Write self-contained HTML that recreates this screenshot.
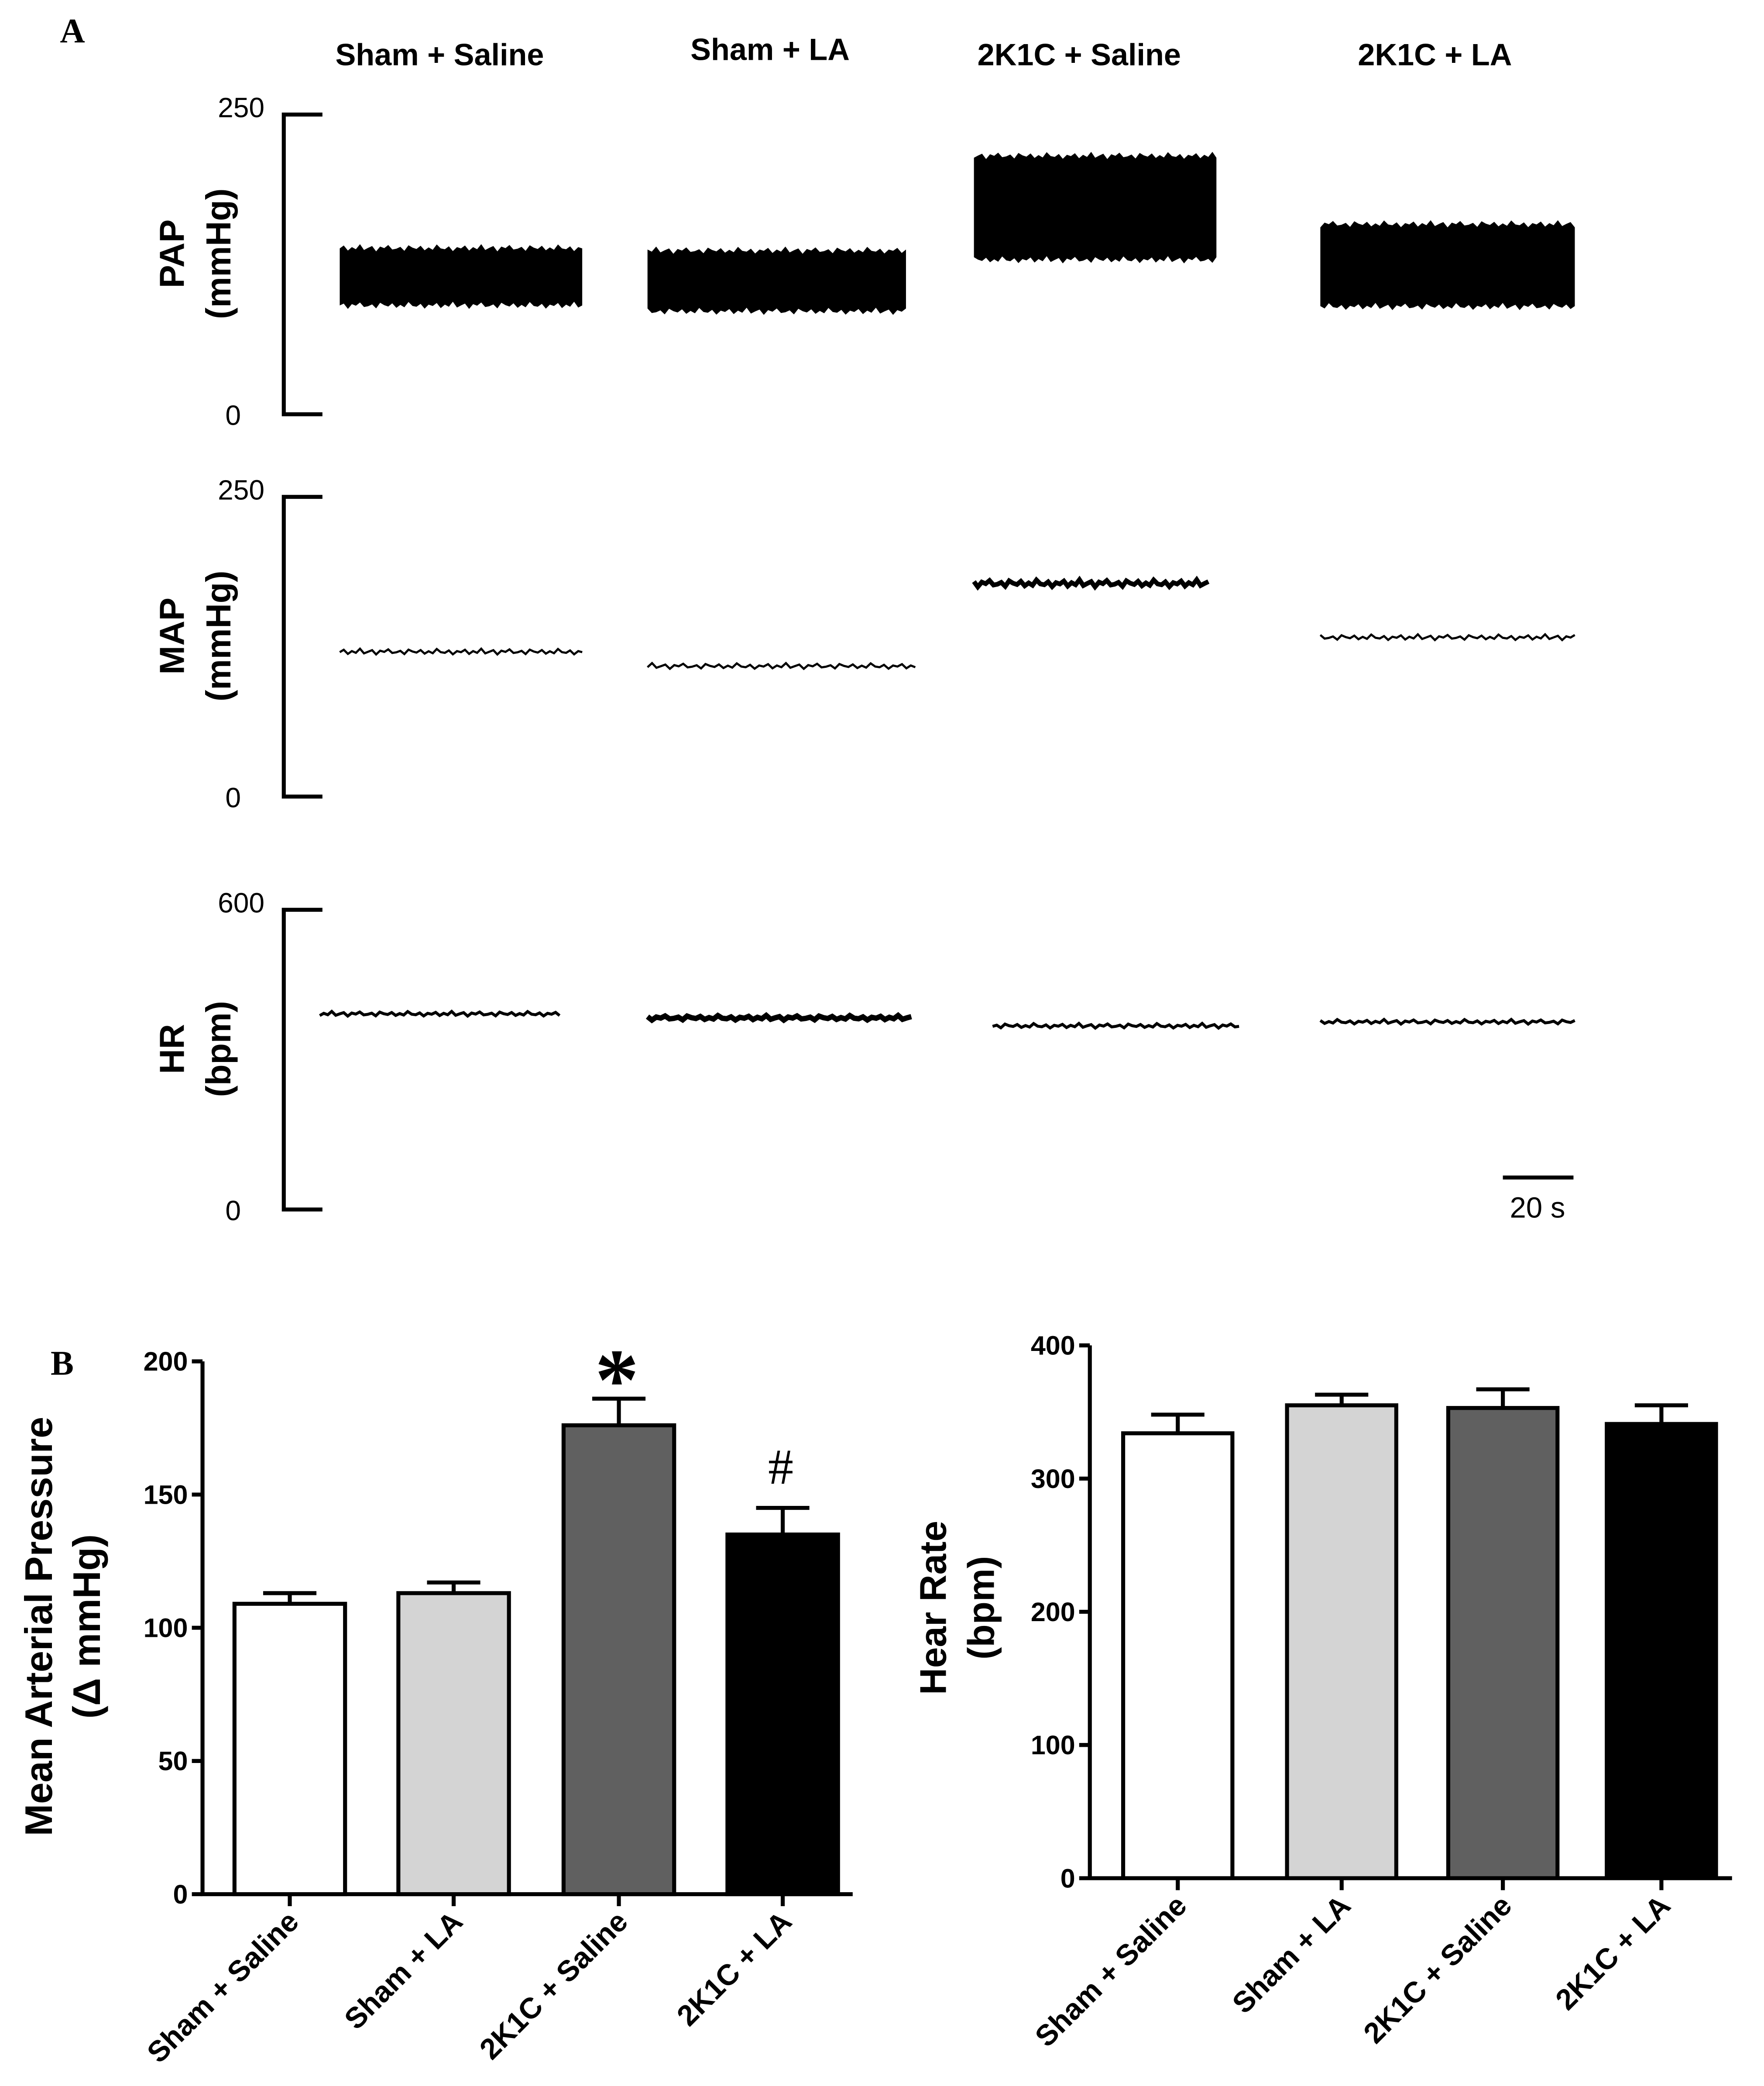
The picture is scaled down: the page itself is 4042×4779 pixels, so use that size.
<!DOCTYPE html>
<html><head><meta charset="utf-8"><style>
html,body{margin:0;padding:0;background:#fff;}
svg{display:block;}
text{font-family:"Liberation Sans",sans-serif;}
</style></head><body>
<svg id="fig" width="4042" height="4779" viewBox="0 0 1324 1566" preserveAspectRatio="none" xmlns="http://www.w3.org/2000/svg">
<rect width="1324" height="1566" fill="#fff"/>
<text x="45" y="32" style="font-family:'Liberation Serif',serif" font-weight="bold" font-size="26">A</text>
<text x="38" y="1032" style="font-family:'Liberation Serif',serif" font-weight="bold" font-size="26">B</text>
<g id="traces"></g>
<g id="barL"></g>
<g id="barR"></g>
</svg>
<script>
// ---------- data ----------
const groups = ["Sham + Saline", "Sham + LA", "2K1C + Saline", "2K1C + LA"];
const papLow  = [91, 86, 129, 90];
const papHigh = [139, 137, 216, 159];
const mapMean = [121, 109, 178, 133];
const hrMean  = [392, 384, 368, 376];
const mapBarValues = [109, 113, 176, 135];
const mapBarErr    = [4, 4, 10, 10];
const hrBarValues  = [334, 355, 353, 341];
const hrBarErr     = [14, 8, 14, 14];
const mapTicks = [0, 50, 100, 150, 200];
const hrTicks  = [0, 100, 200, 300, 400];
const jitter = [0.3,-0.8,1.1,-0.2,0.6,-1.3,0.9,0.1,-0.6,1.4,-0.4,0.2,-1.0,0.7,0.4,-0.3,1.2,-0.9,0.0,0.5,-0.7,1.0,-0.1,0.8,-1.2,0.3,0.6,-0.5,1.3,-0.2];

const NS = "http://www.w3.org/2000/svg";
function mk(parent, tag, attrs, txt){
  const e = document.createElementNS(NS, tag);
  for (const k in attrs) e.setAttribute(k, attrs[k]);
  if (txt !== undefined) e.textContent = txt;
  parent.appendChild(e); return e;
}

// ---------- panel A ----------
const T = document.getElementById('traces');
const traceX0 = [255, 486, 731, 991];
const traceX1 = [437, 680, 913, 1182];
const hrX0 = [240, 486, 745, 991];
const hrX1 = [420, 684, 930, 1182];
const headX = [330, 578, 810, 1077];
const headY = [49, 45, 49, 49];
groups.forEach((g,i)=>{
  const t = mk(T,'text',{x:headX[i],y:headY[i],'text-anchor':'middle','font-weight':'bold','font-size':23},g);
  
  
});
function axisBracket(yTop, yBot, topLbl, title1, title2){
  const p = mk(T,'path',{d:`M242 ${yTop} H213 V${yBot} H242`,fill:'none',stroke:'#000','stroke-width':3});
  
  
  const a = mk(T,'text',{x:181,y:yTop+2,'text-anchor':'middle','font-size':21},topLbl);
  
  
  const b = mk(T,'text',{x:175,y:yBot+8,'text-anchor':'middle','font-size':21},'0');
  
  
  const cy = (yTop+yBot)/2;
  const t1 = mk(T,'text',{x:0,y:0,'text-anchor':'middle','font-weight':'bold','font-size':26,transform:`translate(138 ${cy-8}) rotate(-90)`},title1);
  
  
  const t2 = mk(T,'text',{x:0,y:0,'text-anchor':'middle','font-weight':'bold','font-size':26,transform:`translate(173 ${cy-8}) rotate(-90)`},title2);
  
  
}
axisBracket(86,311,'250','PAP','(mmHg)');
axisBracket(373,598,'250','MAP','(mmHg)');
axisBracket(683,908,'600','HR','(bpm)');
const papY = v => 311 - v*0.9;
const mapY = v => 598 - v*0.9;
const hrY  = v => 908 - v*0.375;
function wiggly(x0,x1,yc,amp,off){
  const n = 60; let s='';
  for(let k=0;k<=n;k++){
    const x = x0+(x1-x0)*k/n;
    const y = yc + amp*jitter[(k+off)%jitter.length];
    s += (k?'L':'M')+x.toFixed(1)+' '+y.toFixed(1);
  }
  return s;
}
groups.forEach((g,i)=>{
  const yt = papY(papHigh[i]), yb = papY(papLow[i]);
  const n=60; let top=[], bot=[];
  for(let k=0;k<=n;k++){
    const x = traceX0[i]+(traceX1[i]-traceX0[i])*k/n;
    top.push(x.toFixed(1)+' '+(yt+2*jitter[(k+i*3)%jitter.length]).toFixed(1));
    bot.push(x.toFixed(1)+' '+(yb+2*jitter[(k+i*5+7)%jitter.length]).toFixed(1));
  }
  const band = mk(T,'path',{d:'M'+top.join(' L')+' L'+bot.reverse().join(' L')+'Z',fill:'#000'});
  
  
  const m = mk(T,'path',{d:wiggly(traceX0[i], i==1?687:(i==2?907:traceX1[i]), mapY(mapMean[i]), i==2?2:1.6, i*4),fill:'none',stroke:'#000','stroke-width':i==2?3.5:1.6});
  
  
  const h = mk(T,'path',{d:wiggly(hrX0[i], hrX1[i], hrY(hrMean[i]), 1.3, i*6+2),fill:'none',stroke:'#000','stroke-width':(i==1?4:2.2)});
  
  
});
const sb = mk(T,'line',{x1:1128,x2:1181,y1:884,y2:884,stroke:'#000','stroke-width':3});


const sbt = mk(T,'text',{x:1154,y:914,'text-anchor':'middle','font-size':22},'20 s');



// ---------- panel B ----------
const fills = ['#ffffff','#d4d4d4','#606060','#000000'];
function barChart(G, opt){
  const y = v => opt.y0 - (v - 0) * opt.ppu;
  const ax = mk(G,'path',{d:`M${opt.ax} ${y(opt.ticks[opt.ticks.length-1])} V${opt.y0} H${opt.xEnd}`,fill:'none',stroke:'#000','stroke-width':3});
  
  
  opt.ticks.forEach(t=>{
    const tk = mk(G,'line',{x1:opt.ax-8,x2:opt.ax,y1:y(t),y2:y(t),stroke:'#000','stroke-width':3});
    
    
    const tl = mk(G,'text',{x:opt.ax-11,y:y(t)+7,'text-anchor':'end','font-weight':'bold','font-size':20},String(t));
    
    
  });
  groups.forEach((g,i)=>{
    const x0 = opt.bx[i], w = opt.bw, cx = x0 + w/2;
    const top = y(opt.vals[i]), et = y(opt.vals[i]+opt.errs[i]);
    const e = mk(G,'path',{d:`M${cx} ${top} V${et} M${cx-20} ${et} H${cx+20}`,stroke:'#000','stroke-width':3,fill:'none'});
    
    
    const r = mk(G,'rect',{x:x0,y:top,width:w,height:opt.y0-top,fill:fills[i],stroke:'#000','stroke-width':3});
    
    
    const xt = mk(G,'line',{x1:cx,x2:cx,y1:opt.y0,y2:opt.y0+9,stroke:'#000','stroke-width':3});
    
    
    const xl = mk(G,'text',{x:0,y:0,'text-anchor':'end','font-weight':'bold','font-size':22,transform:`translate(${cx+8} ${opt.y0+22}) rotate(-45)`},g);
    
    
  });
  opt.title.forEach((s,k)=>{
    const tt = mk(G,'text',{x:0,y:0,'text-anchor':'middle','font-weight':'bold','font-size':opt.titleSize,transform:`translate(${opt.titleX[k]} ${opt.titleY}) rotate(-90)`},s);
    
    
  });
  return y;
}
const yL = barChart(document.getElementById('barL'),{ax:152,y0:1422,ppu:2,xEnd:640,ticks:mapTicks,vals:mapBarValues,errs:mapBarErr,bx:[176,299,423,546],bw:83,title:['Mean Arterial Pressure','(Δ mmHg)'],titleX:[39,75],titleY:1221,titleSize:29});
const yR = barChart(document.getElementById('barR'),{ax:818,y0:1410,ppu:1,xEnd:1300,ticks:hrTicks,vals:hrBarValues,errs:hrBarErr,bx:[843,966,1087,1206],bw:82,title:['Hear Rate','(bpm)'],titleX:[710,746],titleY:1207,titleSize:28});
const BL = document.getElementById('barL');
const star = mk(BL,'text',{x:463,y:yL(mapBarValues[2]+mapBarErr[2])+8,'text-anchor':'middle',style:"font-family:'Liberation Serif',serif",'font-weight':'bold','font-size':66},'*');


const hash = mk(BL,'text',{x:586,y:yL(mapBarValues[3]+mapBarErr[3])-18,'text-anchor':'middle',style:"font-family:'Liberation Serif',serif",'font-size':38},'#');


</script>
</body></html>
